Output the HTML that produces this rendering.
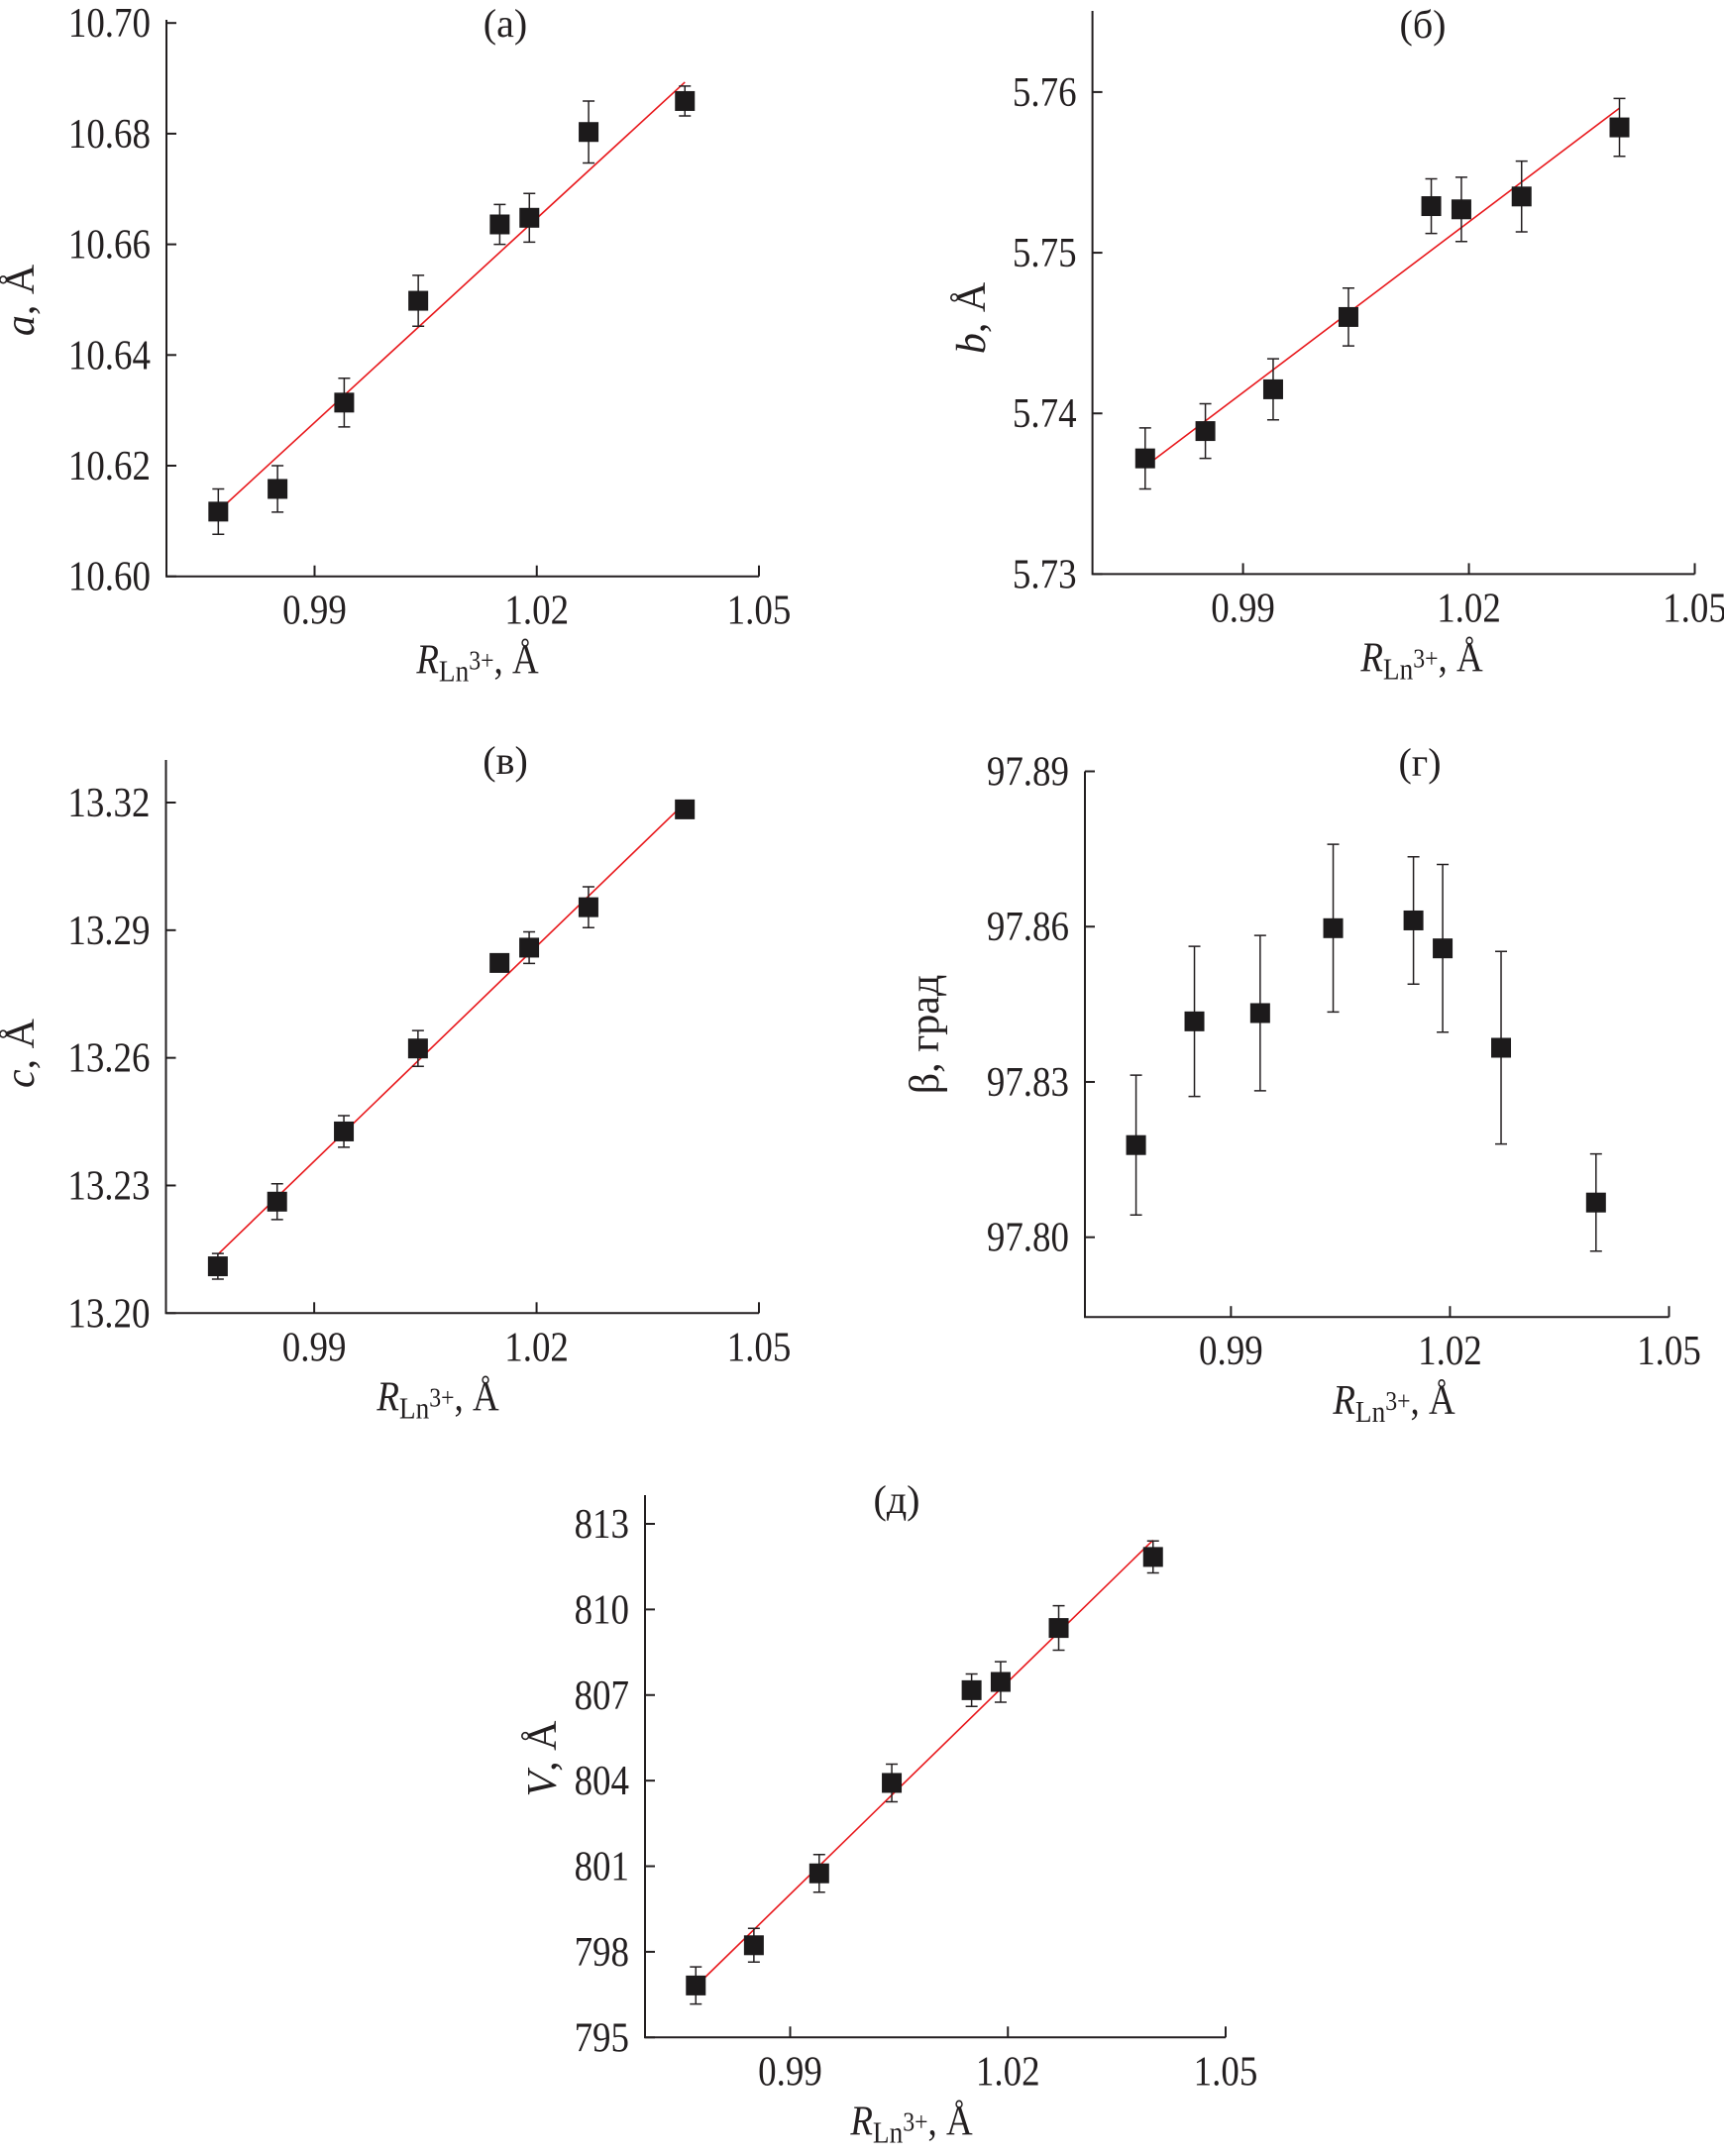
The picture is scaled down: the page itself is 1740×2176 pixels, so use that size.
<!DOCTYPE html>
<html><head><meta charset="utf-8"><style>
html,body{margin:0;padding:0;background:#fff}
svg{display:block}
text{font-family:"Liberation Serif","DejaVu Serif",serif;fill:#231f20}
</style></head><body>
<svg id="fig" width="1740" height="2176" viewBox="0 0 1740 2176" xmlns="http://www.w3.org/2000/svg"></svg>
<script>
// shared x data: ionic radius of Ln3+
const radii = [0.977, 0.985, 0.994, 1.004, 1.015, 1.019, 1.027, 1.040];
const xTicks = [0.99, 1.02, 1.05];
const xTickLabels = ["0.99", "1.02", "1.05"];

// panel (a) a, Å
const aValues = [10.6117, 10.6158, 10.6314, 10.6498, 10.6636, 10.6648, 10.6803, 10.6859];
const aErrors = [0.0041, 0.0042, 0.0044, 0.0046, 0.0036, 0.0044, 0.0056, 0.0027];
const aFit = [10.6118, 10.6893];
const aTicks = [10.60, 10.62, 10.64, 10.66, 10.68, 10.70];
const aTickLabels = ["10.60", "10.62", "10.64", "10.66", "10.68", "10.70"];

// panel (б) b, Å
const bValues = [5.7372, 5.7389, 5.7415, 5.7460, 5.7529, 5.7527, 5.7535, 5.7578];
const bErrors = [0.0019, 0.0017, 0.0019, 0.0018, 0.0017, 0.0020, 0.0022, 0.0018];
const bFit = [5.7367, 5.7590];
const bTicks = [5.73, 5.74, 5.75, 5.76];
const bTickLabels = ["5.73", "5.74", "5.75", "5.76"];

// panel (в) c, Å
const cValues = [13.2110, 13.2262, 13.2427, 13.2622, 13.2823, 13.2859, 13.2954, 13.3184];
const cErrors = [0.0030, 0.0042, 0.0037, 0.0042, 0, 0.0037, 0.0048, 0];
const cFit = [13.2138, 13.3199];
const cTicks = [13.20, 13.23, 13.26, 13.29, 13.32];
const cTickLabels = ["13.20", "13.23", "13.26", "13.29", "13.32"];

// panel (г) beta, deg
const betaValues = [97.8178, 97.8417, 97.8433, 97.8597, 97.8612, 97.8558, 97.8366, 97.8067];
const betaErrors = [0.0135, 0.0145, 0.0150, 0.0162, 0.0123, 0.0162, 0.0186, 0.0094];
const betaTicks = [97.80, 97.83, 97.86, 97.89];
const betaTickLabels = ["97.80", "97.83", "97.86", "97.89"];

// panel (д) V, Å3
const vValues = [796.82, 798.23, 800.75, 803.92, 807.17, 807.46, 809.35, 811.84];
const vErrors = [0.65, 0.59, 0.66, 0.66, 0.57, 0.71, 0.78, 0.56];
const vFit = [796.79, 812.43];
const vTicks = [795, 798, 801, 804, 807, 810, 813];
const vTickLabels = ["795", "798", "801", "804", "807", "810", "813"];

const NS = "http://www.w3.org/2000/svg";
const svg = document.getElementById("fig");
const SX = 0.88;
function mk(tag, attrs, parent) {
  const e = document.createElementNS(NS, tag);
  for (const k in attrs) e.setAttribute(k, attrs[k]);
  (parent || svg).appendChild(e);
  return e;
}

function panel(p) {
  const g = mk("g", {});
  
  
  const X = v => p.x0 + (v - 0.97) / 0.08 * (p.x1 - p.x0);
  const Y = v => p.yB - (v - p.yMin) / (p.yMax - p.yMin) * (p.yB - p.yT);
  const yBottom = p.axisY;
  const ax = mk("path", {d: `M${p.x0},${p.axisTop} L${p.x0},${yBottom} L${p.x1},${yBottom}`, fill: "none", stroke: "#231f20", "stroke-width": 2}, g);
  
  
  p.ticks.forEach((t, i) => {
    const y = Y(t);
    const tk = mk("line", {x1: p.x0, x2: p.x0 + 10, y1: y, y2: y, stroke: "#231f20", "stroke-width": 2}, g);
    
    
    const tl = mk("text", {x: 0, y: 0, "text-anchor": "end", "font-size": 42, transform: `translate(${p.x0 - 16},${y + 14}) scale(${SX},1)`}, g);
    tl.textContent = p.tickLabels[i];
    
    
  });
  xTicks.forEach((t, i) => {
    const x = X(t);
    const tk = mk("line", {x1: x, x2: x, y1: yBottom, y2: yBottom - 11, stroke: "#231f20", "stroke-width": 2}, g);
    
    
    const tl = mk("text", {x: 0, y: 0, "text-anchor": "middle", "font-size": 42, transform: `translate(${x},${yBottom + 48}) scale(${SX},1)`}, g);
    tl.textContent = xTickLabels[i];
    
    
  });
  const xt = mk("text", {x: 0, y: 0, "text-anchor": "middle", "font-size": 42, transform: `translate(${p.xtX},${yBottom + 98}) scale(${SX},1)`}, g);
  xt.innerHTML = '<tspan font-style="italic">R</tspan><tspan font-size="31" dy="8">Ln</tspan><tspan font-size="27" dy="-12">3+</tspan><tspan dy="4">, Å</tspan>';
  
  
  const yt = mk("text", {x: 0, y: 0, "text-anchor": "middle", "font-size": 42, transform: `translate(${p.ytX},${p.ytY}) rotate(-90)`}, g);
  yt.innerHTML = p.yTitle;
  
  
  const pt = mk("text", {x: p.tX, y: p.tY, "text-anchor": "middle", "font-size": 40}, g);
  pt.textContent = p.letter;
  
  
  if (p.fit) {
    const fl = mk("line", {x1: X(radii[0]), y1: Y(p.fit[0]), x2: X(radii[radii.length - 1]), y2: Y(p.fit[1]), stroke: "#e8171b", "stroke-width": 1.6}, g);
    
    
  }
  radii.forEach((r, i) => {
    const x = X(r), y = Y(p.values[i]);
    const e = p.errors[i];
    if (e > 0) {
      const yt2 = Y(p.values[i] + e), yb2 = Y(p.values[i] - e);
      const eb = mk("path", {d: `M${x},${yt2} L${x},${yb2} M${x - 6},${yt2} L${x + 6},${yt2} M${x - 6},${yb2} L${x + 6},${yb2}`, stroke: "#231f20", "stroke-width": 1.5, fill: "none"}, g);
      
      
    }
    const m = mk("rect", {x: x - 10, y: y - 10, width: 20, height: 20, fill: "#1c1a1b"}, g);
    
    
  });
}

panel({id: "a", letter: "(а)", x0: 168, x1: 766, yT: 23.2, yB: 581.7, yMin: 10.60, yMax: 10.70, axisY: 581.7, axisTop: 20,
  ticks: aTicks, tickLabels: aTickLabels, values: aValues, errors: aErrors, fit: aFit,
  xtX: 482, ytX: 34, ytY: 303, tX: 510, tY: 37, yTitle: '<tspan font-style="italic">a</tspan>, Å'});
panel({id: "b", letter: "(б)", x0: 1102.6, x1: 1710.5, yT: 92.9, yB: 579.4, yMin: 5.73, yMax: 5.76, axisY: 579.4, axisTop: 11,
  ticks: bTicks, tickLabels: bTickLabels, values: bValues, errors: bErrors, fit: bFit,
  xtX: 1435, ytX: 994, ytY: 321, tX: 1436, tY: 38, yTitle: '<tspan font-style="italic">b</tspan>, Å'});
panel({id: "c", letter: "(в)", x0: 167.5, x1: 766, yT: 810, yB: 1325.3, yMin: 13.20, yMax: 13.32, axisY: 1325.3, axisTop: 767,
  ticks: cTicks, tickLabels: cTickLabels, values: cValues, errors: cErrors, fit: cFit,
  xtX: 442, ytX: 34, ytY: 1063, tX: 510, tY: 781, yTitle: '<tspan font-style="italic">c</tspan>, Å'});
panel({id: "g", letter: "(г)", x0: 1095, x1: 1684.5, yT: 778.5, yB: 1248.7, yMin: 97.80, yMax: 97.89, axisY: 1329.2, axisTop: 778.5,
  ticks: betaTicks, tickLabels: betaTickLabels, values: betaValues, errors: betaErrors, fit: null,
  xtX: 1407, ytX: 947, ytY: 1044, tX: 1433, tY: 783, yTitle: 'β, град'});
panel({id: "d", letter: "(д)", x0: 651, x1: 1237, yT: 1538, yB: 2056.3, yMin: 795, yMax: 813, axisY: 2056.3, axisTop: 1509,
  ticks: vTicks, tickLabels: vTickLabels, values: vValues, errors: vErrors, fit: vFit,
  xtX: 920, ytX: 561, ytY: 1775, tX: 905, tY: 1527, yTitle: '<tspan font-style="italic">V</tspan>, Å'});
</script>
</body></html>
